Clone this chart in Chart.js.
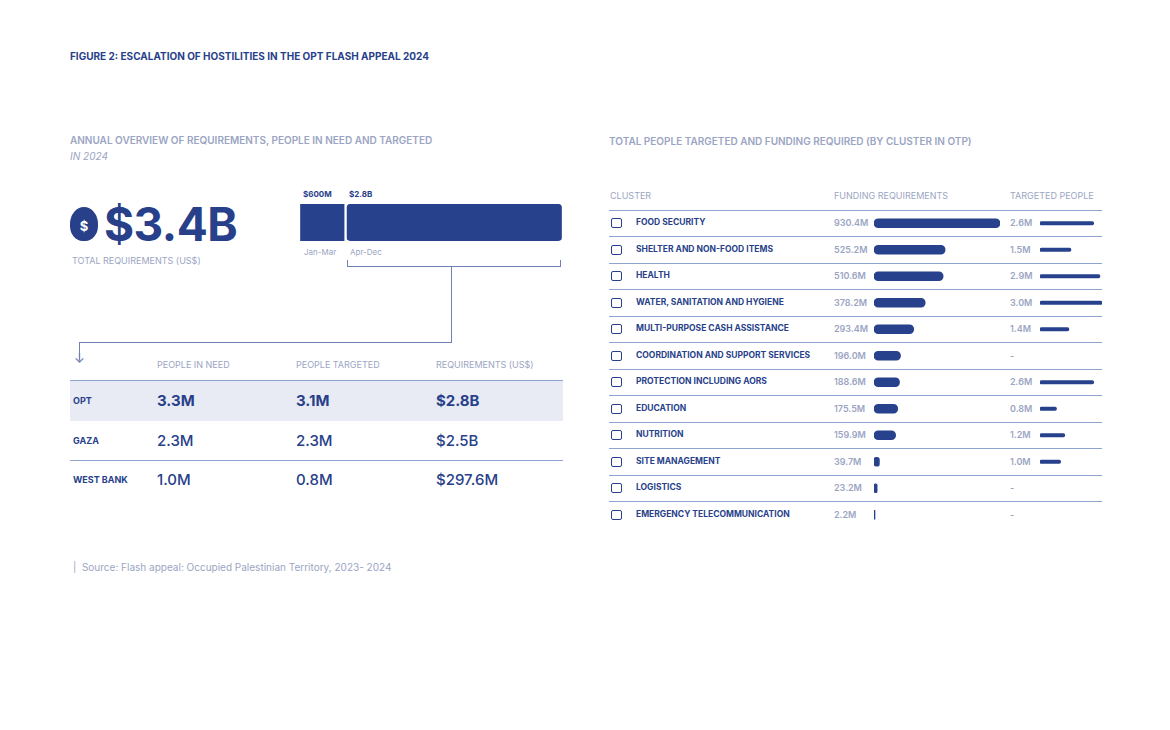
<!DOCTYPE html>
<html><head><meta charset="utf-8">
<script src="https://cdn.jsdelivr.net/npm/chart.js@4.4.1/dist/chart.umd.min.js"></script>
<style>
body{margin:0;width:1170px;height:730px;background:#fff;font-family:Inter,"Open Sans",sans-serif;position:relative;overflow:hidden}
.a{position:absolute;white-space:nowrap}
.dk{color:#283f8a}.gr{color:#9ba5c3}
.hl{position:absolute;height:1px;background:#8ea6cf}
canvas{position:absolute}
</style></head><body>
<script>
const periods=["Jan-Mar","Apr-Dec"];
const periodValues=[0.6,2.8];
const periodLabels=["$600M","$2.8B"];
const tableRows=["OPT","GAZA","WEST BANK"];
const peopleInNeed=["3.3M","2.3M","1.0M"];
const peopleTargeted=["3.1M","2.3M","0.8M"];
const requirements=["$2.8B","$2.5B","$297.6M"];
const clusters=["FOOD SECURITY","SHELTER AND NON-FOOD ITEMS","HEALTH","WATER, SANITATION AND HYGIENE","MULTI-PURPOSE CASH ASSISTANCE","COORDINATION AND SUPPORT SERVICES","PROTECTION INCLUDING AORS","EDUCATION","NUTRITION","SITE MANAGEMENT","LOGISTICS","EMERGENCY TELECOMMUNICATION"];
const funding=[930.4,525.2,510.6,378.2,293.4,196.0,188.6,175.5,159.9,39.7,23.2,2.2];
const targeted=[2.6,1.5,2.9,3.0,1.4,null,2.6,0.8,1.2,1.0,null,null];
</script>
<div class="a dk" style="left:70px;top:50px;font-size:10px;font-weight:700">FIGURE 2: ESCALATION OF HOSTILITIES IN THE OPT FLASH APPEAL 2024</div>
<div class="a gr" style="left:70px;top:134px;font-size:10px;font-weight:600">ANNUAL OVERVIEW OF REQUIREMENTS, PEOPLE IN NEED AND TARGETED</div>
<div class="a gr" style="left:70px;top:150px;font-size:10px;font-style:italic">IN 2024</div>
<div class="a dk" style="left:70px;top:207px;width:28px;height:34px;background:#283f8a;border-radius:50% 50% 45% 45%;color:#fff;font-size:13px;font-weight:700;text-align:center;line-height:38px">$</div>
<div class="a dk" style="left:104px;top:196px;font-size:46px;font-weight:700;letter-spacing:-0.5px">$3.4B</div>
<div class="a gr" style="left:72px;top:255px;font-size:9px">TOTAL REQUIREMENTS (US$)</div>
<div id="pl"></div>
<canvas id="c1" style="left:299px;top:200px" width="264" height="45"></canvas>
<!-- connector -->
<div class="a" style="left:347px;top:260px;width:1px;height:7px;background:#6f80b3"></div>
<div class="a" style="left:560px;top:260px;width:1px;height:7px;background:#6f80b3"></div>
<div class="a" style="left:347px;top:266px;width:214px;height:1px;background:#6f80b3"></div>
<div class="a" style="left:451px;top:266px;width:1px;height:76px;background:#6f80b3"></div>
<div class="a" style="left:79px;top:342px;width:373px;height:1px;background:#6f80b3"></div>
<div class="a" style="left:79px;top:342px;width:1px;height:18px;background:#6f80b3"></div>
<div class="a" style="left:74px;top:350px;font-size:13px;color:#6f80b3">↓</div>
<div id="tbl"></div>
<div class="a gr" style="left:73px;top:561px;font-size:10px">|&nbsp; Source: Flash appeal: Occupied Palestinian Territory, 2023- 2024</div>
<div class="a gr" style="left:609px;top:135px;font-size:10px;font-weight:600">TOTAL PEOPLE TARGETED AND FUNDING REQUIRED (BY CLUSTER IN OTP)</div>
<div class="a gr" style="left:610px;top:190px;font-size:9px">CLUSTER</div>
<div class="a gr" style="left:834px;top:190px;font-size:9px">FUNDING REQUIREMENTS</div>
<div class="a gr" style="left:1010px;top:190px;font-size:9px">TARGETED PEOPLE</div>
<div id="cl"></div>
<canvas id="c2" style="left:872px;top:210px" width="130" height="318"></canvas>
<canvas id="c3" style="left:1038px;top:210px" width="66" height="318"></canvas>
<script>
let h='';
periods.forEach((p,i)=>{const x=i?347:301;h+=`<div class="a dk" style="left:${x+2}px;top:189px;font-size:8px;font-weight:700">${periodLabels[i]}</div><div class="a gr" style="left:${x+3}px;top:247px;font-size:8px">${p}</div>`;});
document.getElementById('pl').innerHTML=h;
h=`<div class="a gr" style="left:157px;top:359px;font-size:9px">PEOPLE IN NEED</div><div class="a gr" style="left:296px;top:359px;font-size:9px">PEOPLE TARGETED</div><div class="a gr" style="left:436px;top:359px;font-size:9px">REQUIREMENTS (US$)</div>`;
h+=`<div class="hl" style="left:70px;top:380px;width:493px"></div><div class="a" style="left:70px;top:381px;width:493px;height:40px;background:#e8ebf4"></div><div class="hl" style="left:70px;top:460px;width:493px"></div>`;
tableRows.forEach((r,i)=>{const y=401+i*39.5;const b=i==0?700:500;
h+=`<div class="a dk" style="left:73px;top:${y-6}px;font-size:9px;font-weight:700">${r}</div>`;
[peopleInNeed[i],peopleTargeted[i],requirements[i]].forEach((v,j)=>{h+=`<div class="a dk" style="left:${[157,296,436][j]}px;top:${y-10}px;font-size:15px;font-weight:${b}">${v}</div>`;});});
document.getElementById('tbl').innerHTML=h;
h='';
clusters.forEach((c,i)=>{const y=223+i*26.5;
h+=`<div class="hl" style="left:609px;top:${y-13.5}px;width:493px"></div>`;
h+=`<div class="a" style="left:611px;top:${y-5}px;width:11px;height:10px;border:1.5px solid #283f8a;border-radius:2px;box-sizing:border-box"></div>`;
h+=`<div class="a dk" style="left:636px;top:${y-6}px;font-size:8.5px;font-weight:700">${c}</div>`;
h+=`<div class="a gr" style="left:834px;top:${y-6}px;font-size:9px;font-weight:600">${funding[i].toFixed(1)}M</div>`;
h+=`<div class="a gr" style="left:1010px;top:${y-6}px;font-size:9px;font-weight:600">${targeted[i]==null?'-':targeted[i].toFixed(1)+'M'}</div>`;});
document.getElementById('cl').innerHTML=h;
const blue='#27418c';
const hidden={display:false};
new Chart(document.getElementById('c1'),{type:'bar',data:{labels:['x'],datasets:periodValues.map(v=>({data:[v],backgroundColor:blue,borderColor:'#fff',borderWidth:{left:1.5,right:1.5},borderRadius:5,borderSkipped:false,barPercentage:1,categoryPercentage:1}))},
options:{indexAxis:'y',responsive:false,animation:false,layout:{padding:{left:0,right:0,top:4,bottom:4}},plugins:{legend:hidden,tooltip:{enabled:false}},scales:{x:{display:false,stacked:true,min:0,max:3.4},y:{display:false,stacked:true}}}});
function rowChart(id,data,max,th){new Chart(document.getElementById(id),{type:'bar',data:{labels:clusters,datasets:[{data:data,backgroundColor:blue,barThickness:th,borderRadius:th/2,borderSkipped:false,minBarLength:1}]},
options:{indexAxis:'y',responsive:false,animation:false,layout:{padding:{left:2,right:2}},plugins:{legend:hidden,tooltip:{enabled:false}},scales:{x:{display:false,min:0,max:max},y:{display:false}}}});}
rowChart('c2',funding,930.4,9);
rowChart('c3',targeted,3.0,3.5);
</script>
</body></html>
